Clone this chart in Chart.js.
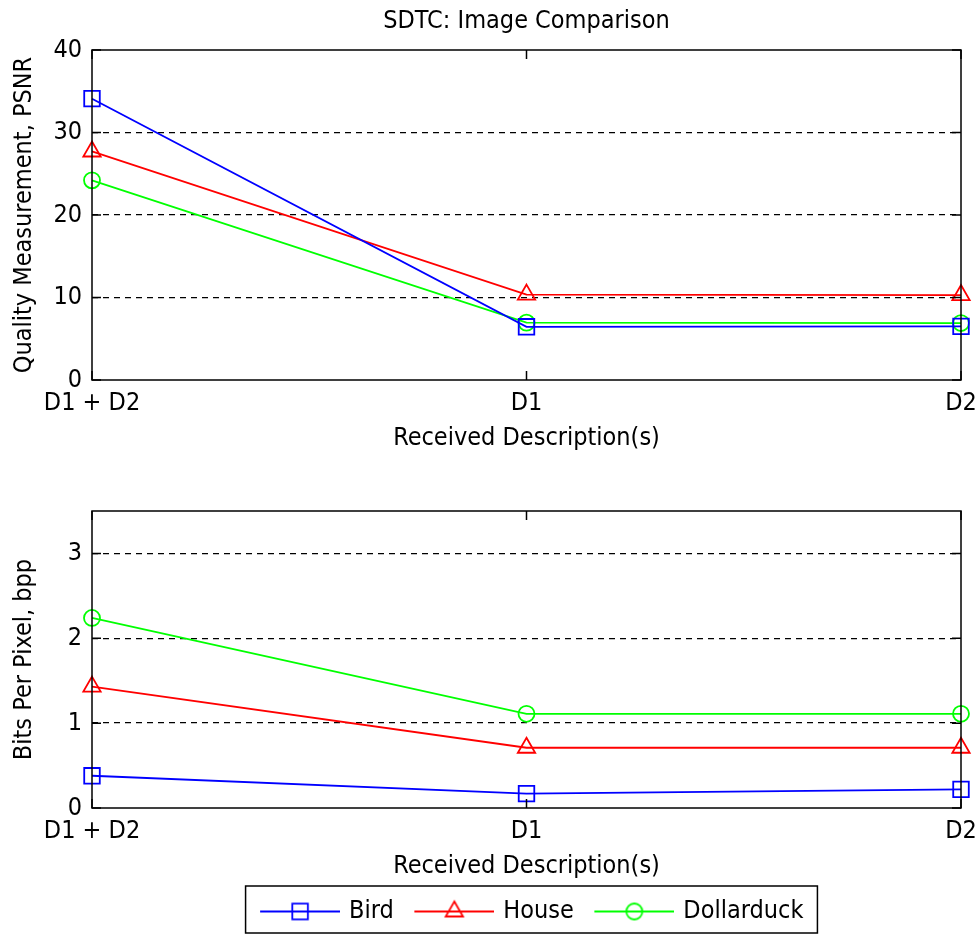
<!DOCTYPE html>
<html>
<head>
<meta charset="utf-8">
<script src="https://cdn.jsdelivr.net/npm/chart.js@4"></script>
<style>
    html, body { margin: 0; padding: 0; background: #fff; }
    #wrap { position: relative; width: 979px; height: 934px; }
    canvas { position: absolute; left: 0; }
</style>
</head>
<body>
<div id="wrap">
    <canvas id="psnrChart" width="979" height="460" style="top:0"></canvas>
    <canvas id="bppChart" width="979" height="474" style="top:460px"></canvas>
</div>
<script>
const descriptions = ['D1 + D2', 'D1', 'D2'];
const seriesNames = ['Bird', 'House', 'Dollarduck'];
const seriesColors = ['#0000ff', '#ff0000', '#00ff00'];
const seriesMarkers = ['rect', 'triangle', 'circle'];
const markerSizes = [11, 10, 8];

const psnrBird = [34.1, 6.45, 6.5];
const psnrHouse = [27.7, 10.35, 10.3];
const psnrDollarduck = [24.2, 6.95, 6.9];

const bppBird = [0.38, 0.17, 0.22];
const bppHouse = [1.43, 0.71, 0.71];
const bppDollarduck = [2.24, 1.11, 1.11];

const psnrTicks = [0, 10, 20, 30, 40];
const bppTicks = [0, 1, 2, 3];

const FONT = "'Liberation Sans Narrow', 'Arial Narrow', 'DejaVu Sans Condensed', sans-serif";
const FS = 25;
const LW = 1.8;
Chart.defaults.font.family = FONT;
Chart.defaults.font.size = FS;
Chart.defaults.color = '#000';

function buildDatasets(series) {
    return series.map((values, i) => ({
        label: seriesNames[i],
        data: values,
        borderColor: seriesColors[i],
        borderWidth: LW,
        pointStyle: seriesMarkers[i],
        pointRadius: markerSizes[i],
        pointBorderColor: seriesColors[i],
        pointBackgroundColor: 'rgba(0,0,0,0)',
        pointBorderWidth: LW,
        tension: 0,
        clip: false
    }));
}

// little line + marker pictures for the legend, like the MATLAB legend
function legendSwatch(i) {
    const c = document.createElement('canvas');
    c.width = 94;
    c.height = 30;
    const g = c.getContext('2d');
    g.strokeStyle = seriesColors[i];
    g.fillStyle = 'rgba(0,0,0,0)';
    g.lineWidth = LW;
    g.beginPath();
    g.moveTo(14, 15);
    g.lineTo(94, 15);
    g.stroke();
    Chart.helpers.drawPoint(g, {
        pointStyle: seriesMarkers[i],
        radius: markerSizes[i],
        rotation: 0,
        borderWidth: LW
    }, 54, 15);
    return c;
}

// box around the plot with inward tick marks, plus the legend frame
const axesBox = {
    id: 'axesBox',
    afterDraw(chart) {
        const { ctx, chartArea: a, scales } = chart;
        ctx.save();
        ctx.strokeStyle = '#000';
        ctx.lineWidth = 1.5;
        ctx.setLineDash([]);
        ctx.strokeRect(a.left, a.top, a.right - a.left, a.bottom - a.top);

        ctx.beginPath();
        scales.x.ticks.forEach((t, i) => {
            const px = scales.x.getPixelForTick(i);
            ctx.moveTo(px, a.bottom);
            ctx.lineTo(px, a.bottom - 9);
            ctx.moveTo(px, a.top);
            ctx.lineTo(px, a.top + 9);
        });
        scales.y.ticks.forEach((t, i) => {
            const py = scales.y.getPixelForTick(i);
            ctx.moveTo(a.left, py);
            ctx.lineTo(a.left + 9, py);
            ctx.moveTo(a.right, py);
            ctx.lineTo(a.right - 9, py);
        });
        ctx.stroke();

        const legend = chart.legend;
        if (legend && legend.options.display && legend.legendHitBoxes.length) {
            const boxes = legend.legendHitBoxes;
            const first = boxes[0];
            const last = boxes[boxes.length - 1];
            const left = first.left - 4;
            const right = last.left + last.width + 14;
            const top = first.top - 13;
            const bottom = first.top + first.height + 9;
            ctx.lineWidth = 1.5;
            ctx.strokeRect(left, top, right - left, bottom - top);
        }
        ctx.restore();
    }
};

function makeChart(canvasId, series, yTicks, yMax, yTitle, opts) {
    return new Chart(document.getElementById(canvasId), {
        type: 'line',
        data: {
            labels: descriptions,
            datasets: buildDatasets(series)
        },
        options: {
            responsive: false,
            animation: false,
            layout: {
                padding: { left: 0, right: 18, top: opts.padTop, bottom: 0 }
            },
            plugins: {
                title: {
                    display: !!opts.title,
                    text: opts.title || '',
                    fullSize: false,
                    font: { size: FS, weight: 'normal' },
                    padding: { top: 6, bottom: 14 }
                },
                legend: opts.legend ? {
                    display: true,
                    position: 'bottom',
                    fullSize: false,
                    labels: {
                        usePointStyle: true,
                        pointStyleWidth: 87,
                        padding: 10,
                        font: { size: FS },
                        color: '#000',
                        generateLabels: (chart) => chart.data.datasets.map((ds, i) => ({
                            text: ds.label,
                            pointStyle: legendSwatch(i),
                            fillStyle: 'rgba(0,0,0,0)',
                            strokeStyle: 'rgba(0,0,0,0)',
                            lineWidth: 0,
                            hidden: false,
                            datasetIndex: i,
                            fontColor: '#000'
                        }))
                    }
                } : { display: false },
                tooltip: { enabled: false }
            },
            scales: {
                x: {
                    type: 'category',
                    offset: false,
                    grid: { display: false, drawTicks: false },
                    border: { display: false },
                    ticks: {
                        padding: 2,
                        autoSkip: false,
                        maxRotation: 0,
                        font: { size: FS, lineHeight: '42px' }
                    },
                    title: {
                        display: true,
                        text: 'Received Description(s)',
                        font: { size: FS },
                        padding: { top: 0, bottom: opts.xTitlePad }
                    },
                    afterFit: (scale) => { scale.height = opts.xHeight; }
                },
                y: {
                    min: 0,
                    max: yMax,
                    afterBuildTicks: (scale) => {
                        scale.ticks = yTicks.map((v) => ({ value: v }));
                    },
                    grid: {
                        drawTicks: false,
                        color: (ctx) => (ctx.tick && ctx.tick.value > 0 && ctx.tick.value < yMax) ? '#000' : 'rgba(0,0,0,0)',
                        lineWidth: 1.3
                    },
                    border: { display: false, dash: [6, 5] },
                    ticks: { padding: 10 },
                    title: {
                        display: true,
                        text: yTitle,
                        font: { size: FS },
                        padding: { top: 9, bottom: 0 }
                    },
                    afterFit: (scale) => { scale.width = 92; }
                }
            }
        },
        plugins: [axesBox]
    });
}

makeChart('psnrChart', [psnrBird, psnrHouse, psnrDollarduck], psnrTicks, 40,
    'Quality Measurement, PSNR',
    { title: 'SDTC: Image Comparison', padTop: 0, xHeight: 80, xTitlePad: 7, legend: false });

makeChart('bppChart', [bppBird, bppHouse, bppDollarduck], bppTicks, 3.5,
    'Bits Per Pixel, bpp',
    { title: '', padTop: 51, xHeight: 81, xTitlePad: 8, legend: true });
</script>
</body>
</html>
